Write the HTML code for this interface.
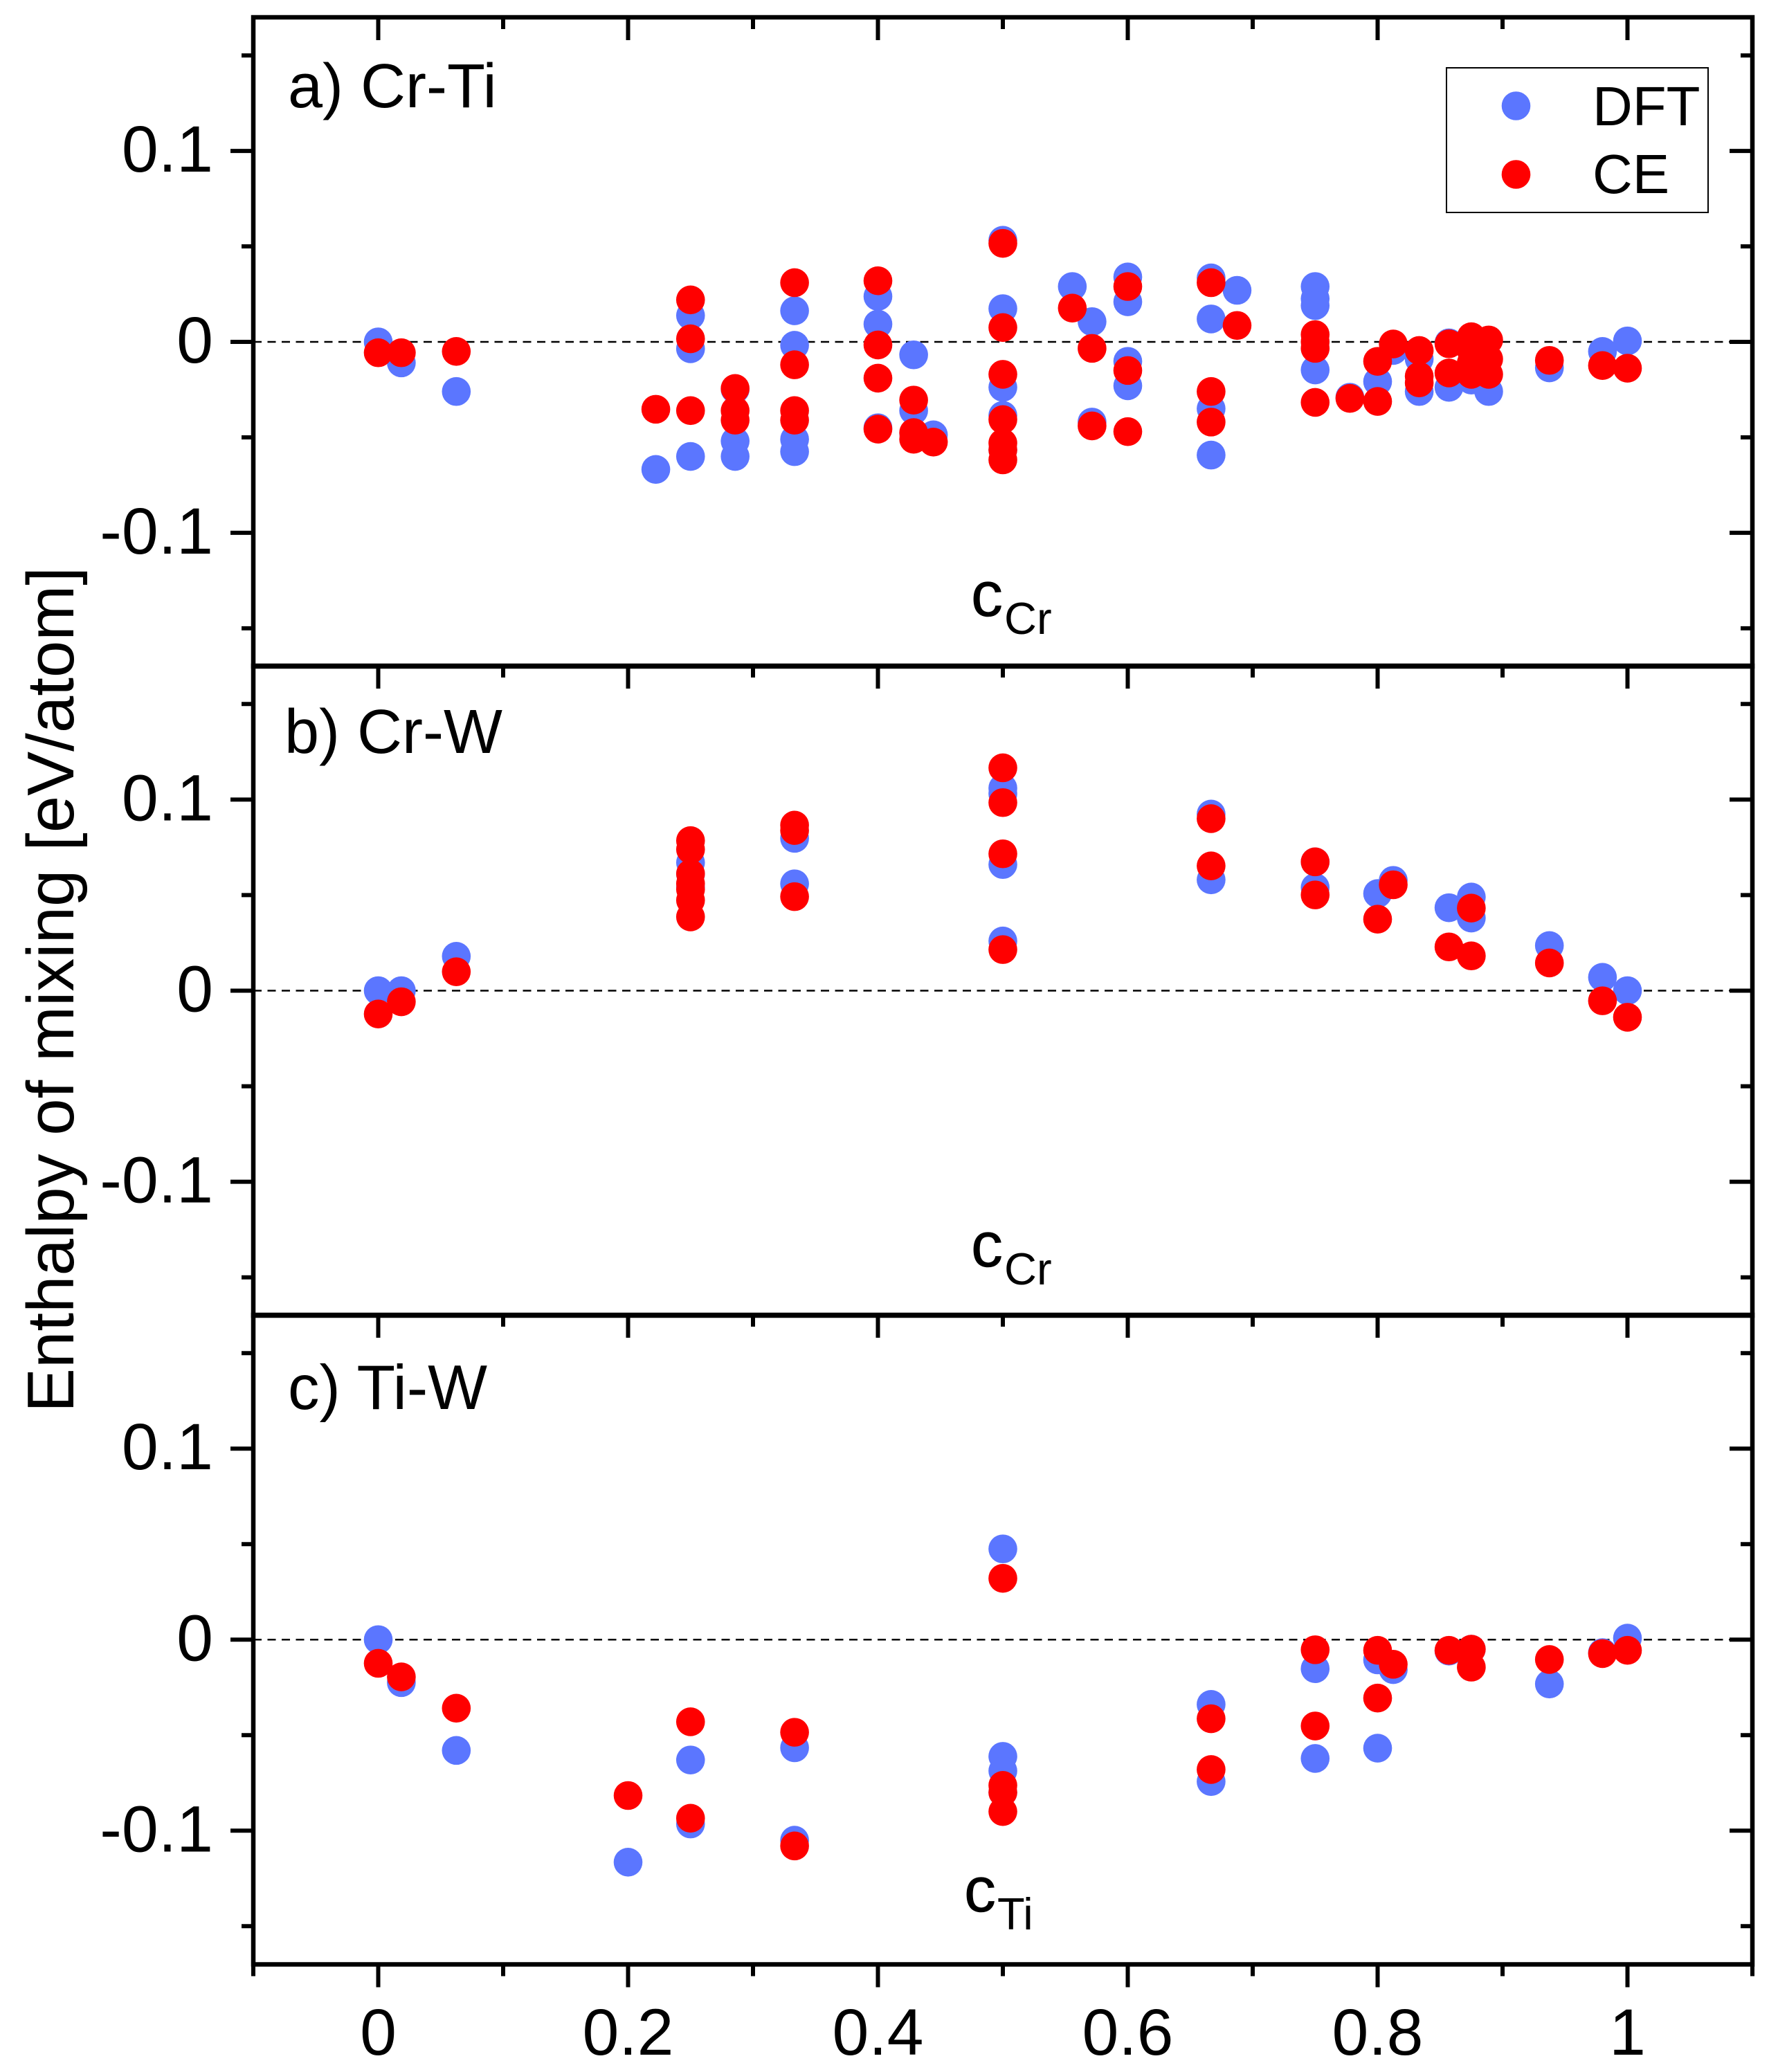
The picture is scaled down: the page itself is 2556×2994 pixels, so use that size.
<!DOCTYPE html>
<html lang="en">
<head>
<meta charset="utf-8">
<title>Enthalpy of mixing: DFT vs CE</title>
<style>
  html, body { margin: 0; padding: 0; background: #fff; }
  body { width: 2556px; height: 2994px; overflow: hidden; }
  svg { display: block; }
  text { font-family: "Liberation Sans", Arial, sans-serif; fill: #000; }
</style>
</head>
<body>
<svg id="chart" xmlns="http://www.w3.org/2000/svg" width="2556" height="2994" viewBox="0 0 2556 2994">
  <rect x="0" y="0" width="2556" height="2994" fill="#ffffff"/>
  <g id="panels"></g>
  <text transform="translate(106 2041) rotate(-90)" font-size="96">Enthalpy of mixing [eV/atom]</text>

  <g>
    <rect x="2090" y="98" width="378" height="209" fill="#ffffff" stroke="#000000" stroke-width="2"/>
    <circle cx="2190.5" cy="153" r="20.8" fill="#5b76ff"/>
    <text x="2301" y="181" font-size="80">DFT</text>
    <circle cx="2190.5" cy="252" r="20.8" fill="#ff0000"/>
    <text x="2301" y="279" font-size="80">CE</text>
  </g>
</svg>

<script>
// ---- Axis tick values and labels ----
var xMajorTicks = [0, 0.2, 0.4, 0.6, 0.8, 1];
var xMinorTicks = [-0.1, 0.1, 0.3, 0.5, 0.7, 0.9, 1.1];
var xTickLabels = ["0", "0.2", "0.4", "0.6", "0.8", "1"];
var yMajorTicks = [0.1, 0, -0.1];
var yMinorTicks = [0.15, 0.05, -0.05, -0.15];
var yTickLabels = ["0.1", "0", "-0.1"];
var xDomain = [-0.1, 1.1];
var yDomain = [-0.17, 0.17];

// ---- Panel a) Cr-Ti ----
var crTiDftC = [0, 0.0185, 0.0625, 0.2222, 0.25, 0.25, 0.25, 0.2857, 0.2857, 0.2857, 0.3333, 0.3333, 0.3333, 0.3333, 0.4, 0.4, 0.4, 0.4286, 0.4286, 0.4286, 0.4444, 0.5, 0.5, 0.5, 0.5, 0.5, 0.5556, 0.5714, 0.5714, 0.6, 0.6, 0.6, 0.6, 0.6667, 0.6667, 0.6667, 0.6667, 0.6875, 0.75, 0.75, 0.75, 0.75, 0.7778, 0.8, 0.8125, 0.8333, 0.8333, 0.8571, 0.8571, 0.875, 0.8889, 0.9375, 0.98, 1];
var crTiDftE = [0, -0.011, -0.026, -0.0668, 0.0138, -0.0036, -0.06, -0.0249, -0.052, -0.06, 0.0163, -0.0018, -0.051, -0.0575, 0.0238, 0.0093, -0.045, -0.0068, -0.036, -0.048, -0.0487, 0.0532, 0.0174, -0.0238, -0.0385, -0.0566, 0.029, 0.0106, -0.042, 0.034, 0.021, -0.0102, -0.023, 0.0335, 0.012, -0.035, -0.0593, 0.027, 0.029, 0.0226, 0.019, -0.0147, -0.029, -0.0208, -0.0045, -0.009, -0.026, -0.0005, -0.0238, -0.02, -0.026, -0.0136, -0.005, 0.0005];
var crTiCeC = [0, 0.0185, 0.0625, 0.2222, 0.25, 0.25, 0.25, 0.2857, 0.2857, 0.2857, 0.3333, 0.3333, 0.3333, 0.3333, 0.4, 0.4, 0.4, 0.4, 0.4286, 0.4286, 0.4286, 0.4444, 0.5, 0.5, 0.5, 0.5, 0.5, 0.5, 0.5, 0.5556, 0.5714, 0.5714, 0.6, 0.6, 0.6, 0.6667, 0.6667, 0.6667, 0.6875, 0.75, 0.75, 0.75, 0.75, 0.7778, 0.8, 0.8, 0.8125, 0.8333, 0.8333, 0.8333, 0.8571, 0.8571, 0.875, 0.875, 0.875, 0.875, 0.8889, 0.8889, 0.8889, 0.9375, 0.98, 1];
var crTiCeE = [-0.0057, -0.0057, -0.005, -0.0353, 0.022, 0.0016, -0.036, -0.0244, -0.036, -0.041, 0.031, -0.012, -0.036, -0.041, 0.032, -0.0016, -0.019, -0.0457, -0.0305, -0.0475, -0.051, -0.0525, 0.0516, 0.0075, -0.017, -0.0407, -0.053, -0.0566, -0.0618, 0.0177, -0.0034, -0.044, 0.029, -0.015, -0.047, 0.031, -0.026, -0.042, 0.0086, 0.0038, 0, -0.0034, -0.0317, -0.0296, -0.0102, -0.0312, -0.0011, -0.0045, -0.018, -0.0215, -0.001, -0.0163, 0.0027, -0.0045, -0.011, -0.017, 0.001, -0.009, -0.017, -0.0097, -0.0124, -0.0138];

// ---- Panel b) Cr-W ----
var crWDftC = [0, 0.0185, 0.0625, 0.25, 0.25, 0.25, 0.3333, 0.3333, 0.5, 0.5, 0.5, 0.5, 0.6667, 0.6667, 0.75, 0.75, 0.8, 0.8125, 0.8571, 0.875, 0.875, 0.9375, 0.98, 1];
var crWDftE = [0, 0, 0.018, 0.067, 0.061, 0.054, 0.0797, 0.0559, 0.106, 0.103, 0.066, 0.026, 0.0924, 0.058, 0.0674, 0.054, 0.0508, 0.0577, 0.0434, 0.049, 0.038, 0.0236, 0.007, 0];
var crWCeC = [0, 0.0185, 0.0625, 0.25, 0.25, 0.25, 0.25, 0.25, 0.25, 0.25, 0.3333, 0.3333, 0.3333, 0.5, 0.5, 0.5, 0.5, 0.6667, 0.6667, 0.75, 0.75, 0.8, 0.8125, 0.8571, 0.875, 0.875, 0.9375, 0.98, 1];
var crWCeE = [-0.0122, -0.0058, 0.0099, 0.0785, 0.0739, 0.0612, 0.056, 0.053, 0.0473, 0.0386, 0.0866, 0.0838, 0.0492, 0.1166, 0.0984, 0.0716, 0.0215, 0.09, 0.0653, 0.0674, 0.0501, 0.0374, 0.0554, 0.0229, 0.0432, 0.0182, 0.0145, -0.0053, -0.0139];

// ---- Panel c) Ti-W ----
var tiWDftC = [0, 0.0185, 0.0625, 0.2, 0.25, 0.25, 0.3333, 0.3333, 0.5, 0.5, 0.5, 0.5, 0.6667, 0.6667, 0.75, 0.75, 0.8, 0.8, 0.8125, 0.8571, 0.875, 0.9375, 0.98, 1];
var tiWDftE = [0, -0.0225, -0.058, -0.1165, -0.063, -0.0965, -0.0566, -0.105, 0.0475, -0.0611, -0.0687, -0.08, -0.0339, -0.0743, -0.0152, -0.0622, -0.0106, -0.0568, -0.0157, -0.006, -0.005, -0.0232, -0.0068, 0.0008];
var tiWCeC = [0, 0.0185, 0.0625, 0.2, 0.25, 0.25, 0.3333, 0.3333, 0.5, 0.5, 0.5, 0.5, 0.6667, 0.6667, 0.75, 0.75, 0.8, 0.8, 0.8125, 0.8571, 0.875, 0.875, 0.9375, 0.98, 1];
var tiWCeE = [-0.0124, -0.0195, -0.0359, -0.0816, -0.043, -0.0935, -0.0485, -0.108, 0.0321, -0.0763, -0.08, -0.09, -0.0414, -0.068, -0.0053, -0.0452, -0.0056, -0.0306, -0.0129, -0.0056, -0.005, -0.0144, -0.0104, -0.0073, -0.0056];

var SVGNS = 'http://www.w3.org/2000/svg';
var BLUE = '#5b76ff';
var RED = '#ff0000';
var plotLeft = 366;
var plotRight = 2532;
var markerRadius = 20.8;

function xScale(c) {
  return plotLeft + (c - xDomain[0]) / (xDomain[1] - xDomain[0]) * (plotRight - plotLeft);
}

function makeYScale(top, bottom) {
  return function (e) {
    return bottom - (e - yDomain[0]) / (yDomain[1] - yDomain[0]) * (bottom - top);
  };
}

function addLine(parent, x1, y1, x2, y2, width, name) {
  var el = document.createElementNS(SVGNS, 'line');
  
  
  el.setAttribute('x1', x1);
  el.setAttribute('y1', y1);
  el.setAttribute('x2', x2);
  el.setAttribute('y2', y2);
  el.setAttribute('stroke', '#000000');
  el.setAttribute('stroke-width', width);
  parent.appendChild(el);
  return el;
}

function addText(parent, x, y, size, anchor, content, name) {
  var el = document.createElementNS(SVGNS, 'text');
  
  
  el.setAttribute('x', x);
  el.setAttribute('y', y);
  el.setAttribute('font-size', size);
  el.setAttribute('text-anchor', anchor);
  el.textContent = content;
  parent.appendChild(el);
  return el;
}

function addSeries(parent, cs, es, yScale, color, seriesName) {
  var group = document.createElementNS(SVGNS, 'g');
  
  
  for (var i = 0; i < cs.length; i++) {
    var dot = document.createElementNS(SVGNS, 'circle');
    
    
    dot.setAttribute('cx', xScale(cs[i]));
    dot.setAttribute('cy', yScale(es[i]));
    dot.setAttribute('r', markerRadius);
    dot.setAttribute('fill', color);
    group.appendChild(dot);
  }
  parent.appendChild(group);
}

function drawPanel(p) {
  var root = document.getElementById('panels');
  var g = document.createElementNS(SVGNS, 'g');
  
  
  root.appendChild(g);
  var y = makeYScale(p.top, p.bottom);

  // zero reference line
  var zero = addLine(g, plotLeft, y(0), plotRight, y(0), 2.4, 'zero-reference-line');
  zero.setAttribute('stroke-dasharray', '12 8.5');

  // data
  addSeries(g, p.dftC, p.dftE, y, BLUE, 'dft-series');
  addSeries(g, p.ceC, p.ceE, y, RED, 'ce-series');

  // top ticks (inward)
  xMajorTicks.forEach(function (t) {
    addLine(g, xScale(t), p.top, xScale(t), p.top + 33, 6, 'x-major-tick');
  });
  xMinorTicks.forEach(function (t) {
    addLine(g, xScale(t), p.top, xScale(t), p.top + 17, 6, 'x-minor-tick');
  });

  // left ticks (outward), right ticks (inward)
  yMajorTicks.forEach(function (t, i) {
    addLine(g, plotLeft - 33, y(t), plotLeft, y(t), 6, 'y-major-tick-left');
    addLine(g, plotRight - 33, y(t), plotRight, y(t), 6, 'y-major-tick-right');
    addText(g, 308, y(t) + 30, 95, 'end', yTickLabels[i], 'y-tick-label');
  });
  yMinorTicks.forEach(function (t) {
    addLine(g, plotLeft - 17, y(t), plotLeft, y(t), 6, 'y-minor-tick-left');
    addLine(g, plotRight - 17, y(t), plotRight, y(t), 6, 'y-minor-tick-right');
  });

  // frame
  var frame = document.createElementNS(SVGNS, 'rect');
  
  
  frame.setAttribute('x', plotLeft);
  frame.setAttribute('y', p.top);
  frame.setAttribute('width', plotRight - plotLeft);
  frame.setAttribute('height', p.bottom - p.top);
  frame.setAttribute('fill', 'none');
  frame.setAttribute('stroke', '#000000');
  frame.setAttribute('stroke-width', 6.5);
  g.appendChild(frame);

  // titles
  addText(g, p.titleX, p.titleY, p.titleSize, 'start', p.title, 'panel-title');
  var cLabel = addText(g, p.cX, p.cY, 92, 'start', 'c', 'x-axis-title');
  cLabel.setAttribute('stroke', '#000000');
  cLabel.setAttribute('stroke-width', 0.6);
  addText(g, p.subX, p.subY, 65, 'start', p.sub, 'x-axis-title-subscript');
}

drawPanel({ name: 'panel-a-cr-ti', top: 25, bottom: 963, dftC: crTiDftC, dftE: crTiDftE, ceC: crTiCeC, ceE: crTiCeE,
  title: 'a) Cr-Ti', titleSize: 90, titleX: 416, titleY: 155, cX: 1403, cY: 890, sub: 'Cr', subX: 1451, subY: 916 });
drawPanel({ name: 'panel-b-cr-w', top: 962, bottom: 1901, dftC: crWDftC, dftE: crWDftE, ceC: crWCeC, ceE: crWCeE,
  title: 'b) Cr-W', titleSize: 90, titleX: 411, titleY: 1088, cX: 1403, cY: 1830, sub: 'Cr', subX: 1451, subY: 1856 });
drawPanel({ name: 'panel-c-ti-w', top: 1900, bottom: 2838.5, dftC: tiWDftC, dftE: tiWDftE, ceC: tiWCeC, ceE: tiWCeE,
  title: 'c) Ti-W', titleSize: 91, titleX: 416, titleY: 2036, cX: 1393, cY: 2762, sub: 'Ti', subX: 1441, subY: 2788 });

// bottom axis (outward ticks and labels)
(function () {
  var svg = document.getElementById('panels');
  var g = document.createElementNS(SVGNS, 'g');
  
  
  svg.appendChild(g);
  var base = 2838.5;
  xMajorTicks.forEach(function (t, i) {
    addLine(g, xScale(t), base, xScale(t), base + 33, 6, 'x-major-tick-bottom');
    addText(g, xScale(t), 2969, 95, 'middle', xTickLabels[i], 'x-tick-label');
  });
  xMinorTicks.forEach(function (t) {
    addLine(g, xScale(t), base, xScale(t), base + 17, 6, 'x-minor-tick-bottom');
  });
})();
</script>
</body>
</html>
